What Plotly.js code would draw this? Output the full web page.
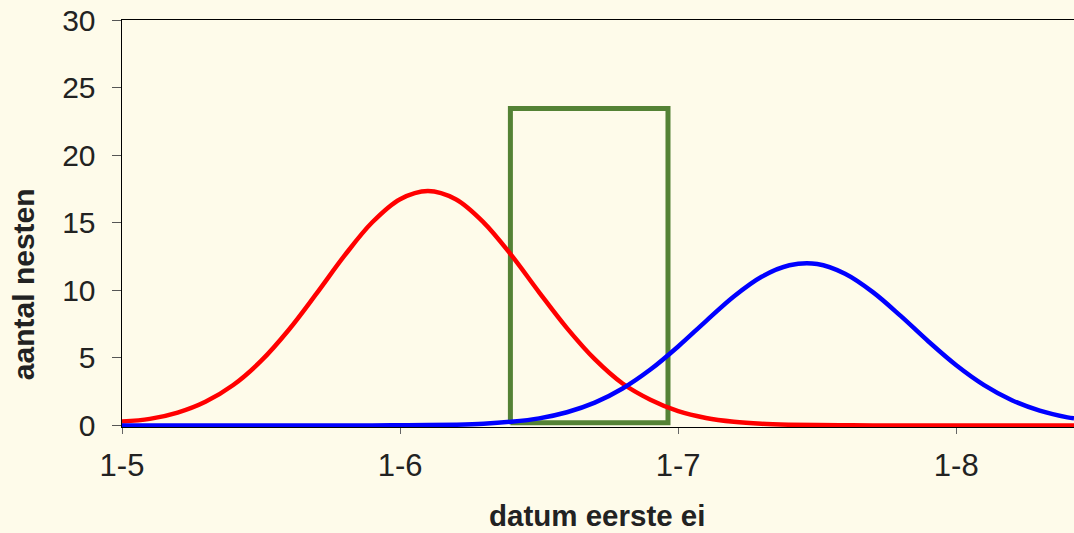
<!DOCTYPE html>
<html>
<head>
<meta charset="utf-8">
<script src="https://cdn.plot.ly/plotly-3.0.1.min.js"></script>
<style>
html,body{margin:0;padding:0;background:#FEFBEA;}
#chart{width:1074px;height:533px;}
</style>
</head>
<body>
<div id="chart"></div>
<script>
// days after 1 May
var days = [0,3,6,9,12,15,18,21,24,27,30,33,36,39,42,45,48,51,54,57,60,63,66,69,72,75,78,81,84,87,90,93,96,99,102,102.7];
var redNests = [0.28,0.48,0.95,1.75,2.99,4.77,7.08,9.77,12.56,15.03,16.74,17.35,16.74,15.03,12.6,9.85,7.2,4.9,3.1,1.9,1.05,0.55,0.27,0.12,0.05,0.02,0.01,0,0,0,0,0,0,0,0,0];
var blueNests = [0,0,0,0,0,0,0,0,0,0,0.01,0.02,0.05,0.12,0.27,0.52,0.97,1.68,2.73,4.13,5.84,7.72,9.54,11.0,11.85,11.94,11.22,9.86,8.10,6.21,4.45,2.98,1.86,1.09,0.59,0.52];
// green box: start/end day, bottom/top value
var boxDays = [41.9, 58.9];
var boxValues = [0.2, 23.45];
var tickDays = [0,30,60,90];
var tickLabels = ['1-5','1-6','1-7','1-8'];

var boxX = [boxDays[0], boxDays[0], boxDays[1], boxDays[1], boxDays[0]];
var boxY = [boxValues[0], boxValues[1], boxValues[1], boxValues[0], boxValues[0]];

var traces = [
  {x: boxX, y: boxY, mode:'lines', line:{color:'#548235', width:5}, hoverinfo:'skip'},
  {x: days, y: redNests, mode:'lines', line:{color:'#FF0000', width:4.5, shape:'spline', smoothing:1}},
  {x: days, y: blueNests, mode:'lines', line:{color:'#0000FF', width:4.5, shape:'spline', smoothing:1}}
];

var font = 'Liberation Sans, Arial, sans-serif';
var layout = {
  width:1074, height:533,
  paper_bgcolor:'#FEFBEA', plot_bgcolor:'#FEFBEA',
  showlegend:false,
  margin:{l:122, r:0, t:20, b:106, pad:0},
  font:{family:font, color:'#222222'},
  xaxis:{
    range:[0,102.7], tickvals:tickDays, ticktext:tickLabels,
    showline:true, linecolor:'#000', linewidth:1, mirror:true,
    ticks:'outside', ticklen:6, tickcolor:'#666', tickwidth:1,
    showgrid:false, zeroline:false,
    tickfont:{size:31, color:'#222', family:font},
    ticklabelstandoff:5
  },
  yaxis:{
    range:[-0.12,30], tickvals:[0,5,10,15,20,25,30],
    showline:true, linecolor:'#000', linewidth:1.5,
    ticks:'outside', ticklen:9, tickcolor:'#555', tickwidth:1,
    showgrid:false, zeroline:false,
    tickfont:{size:30, color:'#222', family:font},
    ticklabelstandoff:10
  },
  annotations:[
    {text:'<b>datum eerste ei</b>', xref:'paper', yref:'paper', x:0.499, y:-0.2165, xanchor:'center', yanchor:'middle', showarrow:false, borderpad:0, font:{size:29.5, color:'#222', family:font}},
    {text:'<b>aantal nesten</b>', xref:'paper', yref:'paper', x:-0.104, y:0.351, xanchor:'center', yanchor:'middle', textangle:-90, showarrow:false, font:{size:30, color:'#222', family:font}}
  ]
};
Plotly.newPlot('chart', traces, layout, {displayModeBar:false, staticPlot:true});
</script>
</body>
</html>
